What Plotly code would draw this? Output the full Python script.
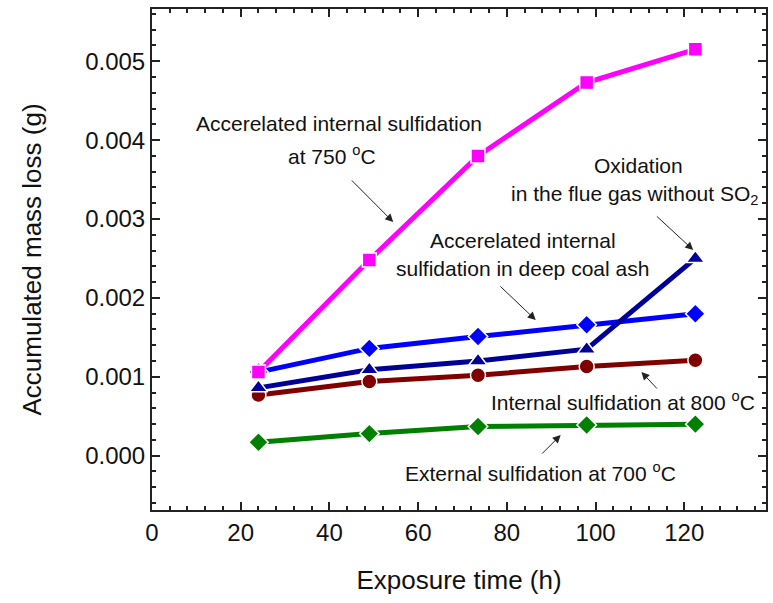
import plotly.graph_objects as go

# ---- data ----
time_h = [24, 49, 73.5, 98, 122.5]
accel_750 = [0.00106, 0.00248, 0.00380, 0.00473, 0.00515]
accel_ash = [0.00106, 0.00136, 0.00151, 0.00166, 0.00180]
oxidation = [0.00086, 0.00109, 0.00120, 0.00135, 0.00250]
internal_800 = [0.00077, 0.00094, 0.00102, 0.00113, 0.00121]
external_700 = [0.00017, 0.00028, 0.00037, 0.00039, 0.00040]

x_ticks = [0, 20, 40, 60, 80, 100, 120]
y_ticks = [0.000, 0.001, 0.002, 0.003, 0.004, 0.005]

FONT = "Liberation Sans, Arial, sans-serif"

fig = go.Figure()

series = [
    (internal_800, "#800000", "circle", 15, "Internal sulfidation at 800 °C"),
    (external_700, "#008000", "diamond", 15, "External sulfidation at 700 °C"),
    (accel_ash, "#0000FF", "diamond", 15, "Accelerated internal sulfidation in deep coal ash"),
    (oxidation, "#000099", "triangle-up", 16, "Oxidation in the flue gas without SO2"),
    (accel_750, "#FF00FF", "square", 14, "Accelerated internal sulfidation at 750 °C"),
]
for ys, col, sym, sz, nm in series:
    fig.add_trace(go.Scatter(
        x=time_h, y=ys, mode="lines+markers", name=nm,
        line=dict(color=col, width=5),
        marker=dict(color=col, symbol=sym, size=sz, line=dict(color="white", width=1.5)),
        showlegend=False,
    ))

# pixel -> data helpers for annotation placement (plot area 152..768 x, 9..510 y)
X0, XPX = 152.0, 4.45          # px at x=0, px per hour
Y0, YPX = 455.7, 78.9 / 0.001  # px at y=0, px per g

def dx(px):
    return (px - X0) / XPX

def dy(py):
    return (Y0 - py) / YPX

texts = [
    (340, 123, "Accerelated internal sulfidation"),
    (333, 155, "at 750 <sup>o</sup>C"),
    (640, 165, "Oxidation"),
    (636, 195, "in the flue gas without SO<sub>2</sub>"),
    (524, 240, "Accerelated internal"),
    (524, 268, "sulfidation in deep coal ash"),
    (625, 401, "Internal sulfidation at 800 <sup>o</sup>C"),
    (542, 472, "External sulfidation at 700 <sup>o</sup>C"),
]
for px, py, t in texts:
    fig.add_annotation(x=dx(px), y=dy(py), xref="x", yref="y", text=t,
                       showarrow=False, font=dict(family=FONT, size=21, color="#111"),
                       xanchor="center", yanchor="middle")

arrows = [
    ((351, 179), (394, 222)),
    ((657, 215), (695, 250)),
    ((500, 285), (537, 320)),
    ((660, 390), (643, 372)),
    ((542, 455), (562, 435)),
]
for (tx, ty), (hx, hy) in arrows:
    fig.add_annotation(x=dx(hx), y=dy(hy), xref="x", yref="y",
                       ax=dx(tx), ay=dy(ty), axref="x", ayref="y",
                       text="", showarrow=True, arrowhead=2, arrowsize=1.6,
                       arrowwidth=1, arrowcolor="#222")

axis_common = dict(
    showgrid=False, zeroline=False, showline=True, linecolor="#222", linewidth=2,
    mirror="allticks", ticks="inside", ticklen=8, tickwidth=1.5, tickcolor="#222",
    tickfont=dict(family=FONT, size=24, color="#111"),
)

fig.update_xaxes(
    range=[0, (768 - X0) / XPX], tickvals=x_ticks, ticktext=[str(v) for v in x_ticks],
    title=dict(text="Exposure time (h)", font=dict(family=FONT, size=26, color="#111"), standoff=26),
    minor=dict(ticks="inside", dtick=4, ticklen=4, tickwidth=1.5, tickcolor="#222"),
    **axis_common,
)
fig.update_yaxes(
    range=[dy(510), dy(9)], tickvals=y_ticks, ticktext=[f"{v:.3f}" for v in y_ticks],
    title=dict(text="Accumulated mass loss (g)", font=dict(family=FONT, size=26, color="#111"), standoff=36),
    minor=dict(ticks="inside", dtick=0.0002, ticklen=4, tickwidth=1.5, tickcolor="#222"),
    **axis_common,
)

fig.update_layout(
    width=773, height=603,
    margin=dict(l=152, r=5, t=9, b=93),
    plot_bgcolor="white", paper_bgcolor="white",
    font=dict(family=FONT),
)

fig.write_html("out.html")
